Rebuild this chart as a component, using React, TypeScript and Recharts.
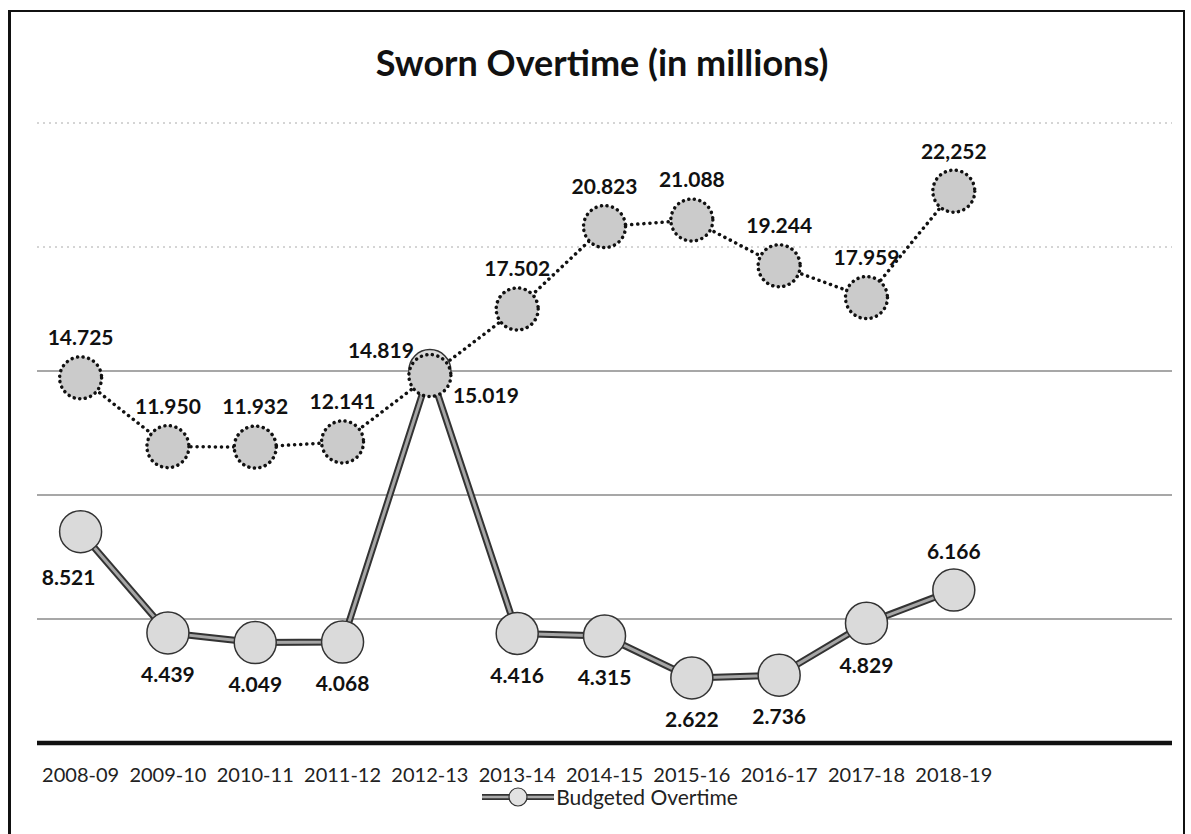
import React from 'react';
import { LineChart, Line, XAxis, YAxis, CartesianGrid, Legend, LabelList } from 'recharts';

const years = ['2008-09', '2009-10', '2010-11', '2011-12', '2012-13', '2013-14', '2014-15', '2015-16', '2016-17', '2017-18', '2018-19'];
const budgeted = [8.521, 4.439, 4.049, 4.068, 15.019, 4.416, 4.315, 2.622, 2.736, 4.829, 6.166];
const sworn = [14.725, 11.95, 11.932, 12.141, 14.819, 17.502, 20.823, 21.088, 19.244, 17.959, 22.252];
const swornLabels = ['14.725', '11.950', '11.932', '12.141', '14.819', '17.502', '20.823', '21.088', '19.244', '17.959', '22,252'];
const yTicks = [0, 5, 10, 15, 20, 25];

const data = years.map((year, i) => ({
  year,
  budgeted: budgeted[i],
  sworn: sworn[i],
  swornLabel: swornLabels[i],
}));

const FONT = 'Lato, "Open Sans", sans-serif';

const gridLine = (props: any) => {
  const { x1, y1, x2, y2 } = props;
  const faint = y1 < 300;
  return (
    <line
      key={`g-${y1}`}
      x1={x1}
      y1={y1}
      x2={x2}
      y2={y2}
      stroke={faint ? '#aaa' : '#8a8a8a'}
      strokeWidth={faint ? 1 : 1.5}
      strokeDasharray={faint ? '2 4' : undefined}
    />
  );
};

const YearTick = ({ x, y, payload }: any) => (
  <text x={x} y={y + 24} dy="0.35em" textAnchor="middle" fontFamily={FONT} fontSize={20} fill="#222">
    {payload.value}
  </text>
);

const labelStyle = { fontFamily: FONT, fontSize: 21, fontWeight: 700, fill: '#111' };

const budgetLabel = (props: any) => {
  const { x, y, index, value } = props;
  let dx = 0;
  let dy = 42;
  if (index === 0) {
    dx = -12;
    dy = 46;
  }
  if (index === 4) {
    dx = 56;
    dy = 25;
  }
  if (index === budgeted.length - 1) dy = -38;
  return (
    <text x={x + dx} y={y + dy} dy="0.35em" textAnchor="middle" {...labelStyle}>
      {Number(value).toFixed(3)}
    </text>
  );
};

const swornLabel = (props: any) => {
  const { x, y, index, value } = props;
  let dx = 0;
  let dy = -40;
  if (index === 4) {
    dx = -49;
    dy = -25;
  }
  return (
    <text x={x + dx} y={y + dy} dy="0.35em" textAnchor="middle" {...labelStyle}>
      {value}
    </text>
  );
};

const LegendContent = () => (
  <div style={{ display: 'flex', justifyContent: 'center', alignItems: 'center', height: 22, paddingLeft: 29 }}>
    <svg width={72} height={22}>
      <line x1={0} y1={11} x2={72} y2={11} stroke="#333" strokeWidth={6} />
      <line x1={0} y1={11} x2={72} y2={11} stroke="#aaa" strokeWidth={2.5} />
      <circle cx={36} cy={11} r={9} fill="#e2e2e2" stroke="#333" strokeWidth={1.2} />
    </svg>
    <span style={{ fontFamily: FONT, fontSize: 21, color: '#222', marginLeft: 2, lineHeight: '22px' }}>Budgeted Overtime</span>
  </div>
);

export default function App() {
  return (
    <div style={{ position: 'absolute', left: 0, top: 0, width: 1191, height: 834, background: '#fff', overflow: 'hidden' }}>
      <div
        style={{
          position: 'absolute',
          left: 8,
          top: 10,
          width: 1172,
          height: 900,
          borderTop: '2px solid #111',
          borderLeft: '3px solid #111',
          borderRight: '2px solid #111',
        }}
      />
      <div
        style={{
          position: 'absolute',
          left: 0,
          width: 1204,
          top: 38,
          textAlign: 'center',
          fontFamily: FONT,
          fontWeight: 700,
          fontSize: 36,
          color: '#111',
          lineHeight: '48px',
        }}
      >
        Sworn Overtime (in millions)
      </div>
      <div style={{ position: 'absolute', left: 0, top: 0 }}>
        <LineChart width={1191} height={834} data={data} margin={{ top: 123, right: 19, left: 37, bottom: 26 }}>
          <CartesianGrid vertical={false} horizontal={gridLine} />
          <XAxis
            dataKey="year"
            interval={0}
            height={43}
            padding={{ left: 43.6, right: 218.2 }}
            tickLine={false}
            axisLine={{ stroke: '#111', strokeWidth: 4.5 }}
            tick={<YearTick />}
          />
          <YAxis hide domain={[0, 25]} ticks={yTicks} />
          <Legend verticalAlign="bottom" wrapperStyle={{ left: 0, width: 1191, height: 22 }} content={<LegendContent />} />
          <Line
            dataKey="budgeted"
            legendType="none"
            stroke="#333"
            strokeWidth={7}
            dot={false}
            activeDot={false}
            isAnimationActive={false}
          />
          <Line
            dataKey="budgeted"
            name="Budgeted Overtime"
            stroke="#a6a6a6"
            strokeWidth={3}
            dot={{ r: 21, fill: '#dadada', stroke: '#333', strokeWidth: 1.5 }}
            activeDot={false}
            isAnimationActive={false}
          >
            <LabelList dataKey="budgeted" content={budgetLabel} />
          </Line>
          <Line
            dataKey="sworn"
            name="Sworn Overtime"
            legendType="none"
            stroke="#111"
            strokeWidth={3.5}
            strokeDasharray="0.1 6"
            strokeLinecap="round"
            dot={{ r: 21, fill: '#cbcbcb', stroke: '#111', strokeWidth: 3.5, strokeDasharray: '0.1 5.5', strokeLinecap: 'round' }}
            activeDot={false}
            isAnimationActive={false}
          >
            <LabelList dataKey="swornLabel" content={swornLabel} />
          </Line>
        </LineChart>
      </div>
    </div>
  );
}
